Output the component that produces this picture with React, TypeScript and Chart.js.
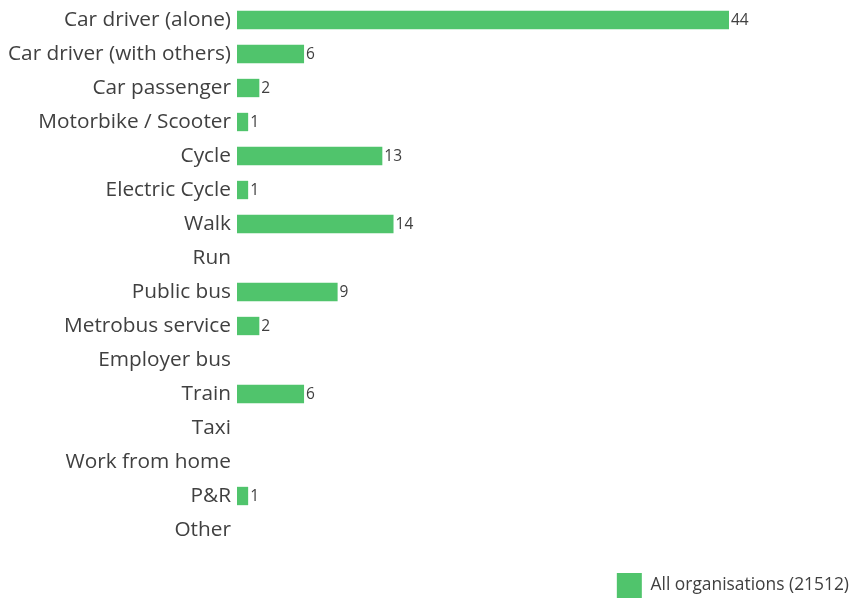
import React, { useEffect, useRef } from "react";
import { Chart, registerables } from "chart.js";

Chart.register(...registerables);

const categories = [
  "Car driver (alone)",
  "Car driver (with others)",
  "Car passenger",
  "Motorbike / Scooter",
  "Cycle",
  "Electric Cycle",
  "Walk",
  "Run",
  "Public bus",
  "Metrobus service",
  "Employer bus",
  "Train",
  "Taxi",
  "Work from home",
  "P&R",
  "Other",
];
const values = [44, 6, 2, 1, 13, 1, 14, 0, 9, 2, 0, 6, 0, 0, 1, 0];
const seriesName = "All organisations (21512)";

const FONT = "'Open Sans', sans-serif";

const valueLabels = {
  id: "valueLabels",
  afterDatasetsDraw(chart: any) {
    const ctx = chart.ctx;
    const meta = chart.getDatasetMeta(0);
    ctx.save();
    ctx.font = `15.5px ${FONT}`;
    ctx.fillStyle = "#404040";
    ctx.textAlign = "left";
    ctx.textBaseline = "middle";
    meta.data.forEach((bar: any, i: number) => {
      const v = values[i];
      if (!v) return;
      ctx.fillText(String(Math.round(v)), bar.x + 2, bar.y + 1);
    });
    ctx.restore();
  },
};

export default function App() {
  const ref = useRef<HTMLCanvasElement>(null);
  useEffect(() => {
    document.body.style.margin = "0";
    const chart = new Chart(ref.current!, {
      type: "bar",
      data: {
        labels: categories,
        datasets: [
          {
            label: seriesName,
            data: values,
            backgroundColor: "#50C46C",
            borderWidth: 0,
            categoryPercentage: 1,
            barPercentage: 0.54,
          },
        ],
      },
      options: {
        indexAxis: "y",
        animation: false,
        responsive: true,
        maintainAspectRatio: false,
        layout: { padding: { top: 3, right: 0, bottom: -7, left: 2 } },
        scales: {
          x: { display: false, min: 0, max: 55 },
          y: {
            grid: { display: false, drawTicks: false },
            border: { display: false },
            afterFit: (scale: any) => {
              scale.paddingTop = 0;
              scale.paddingBottom = 0;
            },
            ticks: {
              color: "#404040",
              font: { family: FONT, size: 20.8, lineHeight: 0.2 },
              padding: 6,
            },
          },
        },
        plugins: {
          legend: {
            position: "bottom",
            align: "end",
            title: {
              display: true,
              text: "",
              font: { size: 23, lineHeight: 1 },
              padding: 0,
            },
            labels: {
              boxWidth: 25,
              boxHeight: 25,
              color: "#404040",
              font: { family: FONT, size: 17.4 },
              padding: 3,
            },
          },
          tooltip: { enabled: false },
        },
      },
      plugins: [valueLabels],
    });
    return () => chart.destroy();
  }, []);
  return (
    <div style={{ position: "relative", width: 852, height: 601 }}>
      <canvas ref={ref} />
    </div>
  );
}
